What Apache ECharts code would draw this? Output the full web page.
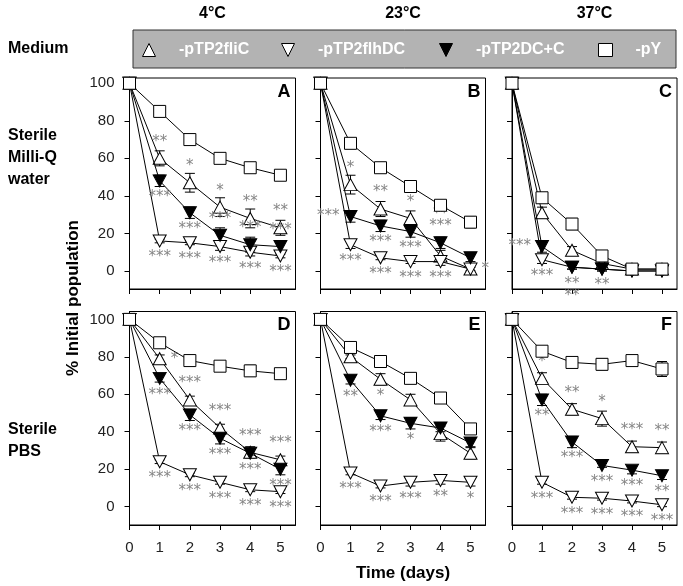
<!DOCTYPE html>
<html><head><meta charset="utf-8">
<script src="https://cdn.jsdelivr.net/npm/echarts@6/dist/echarts.min.js"></script>
<style>html,body{margin:0;padding:0;background:#fff}#c{width:683px;height:586px}</style>
</head><body><div id="c"></div>
<script>
// ---------- data ----------
const days = [0, 1, 2, 3, 4, 5];
const seriesNames = ['-pTP2fliC', '-pTP2flhDC', '-pTP2DC+C', '-pY'];
const panelLetters = ['A', 'B', 'C', 'D', 'E', 'F'];
const temperatures = ['4°C', '23°C', '37°C'];
const yTicks = [0, 20, 40, 60, 80, 100];

// Panel A (Milli-Q, 4°C)
const A_fliC = [100, 60, 47, 34, 28, 23];
const A_flhDC = [100, 16, 15, 13, 10, 8];
const A_DCC = [100, 48, 31, 19, 14, 13];
const A_pY = [100, 85, 70, 60, 55, 51];
const A_fliC_err = [0, 4, 5, 5, 5, 4];
const A_flhDC_err = [0, 1, 1, 2, 2, 1];
const A_DCC_err = [0, 3, 3, 4, 4, 3];
const A_pY_err = [0, 1, 1.5, 1, 2, 1.5];
const A_fliC_sig = ['', '^**', '^*', '^*', '^**', '^**'];
const A_flhDC_sig = ['', 'v***', 'v***', 'v***', 'v***', 'v***'];
const A_DCC_sig = ['', 'v***', 'v***', '^***', '^***', '^***'];
const A_pY_sig = ['', '', '', '', '', ''];

// Panel B (Milli-Q, 23°C)
const B_fliC = [100, 46, 33, 28, 8, 1];
const B_flhDC = [100, 14, 7, 5, 5, 1];
const B_DCC = [100, 29, 24, 21, 15, 7];
const B_pY = [100, 68, 55, 45, 35, 26];
const B_fliC_err = [0, 5, 4, 4, 3, 2];
const B_flhDC_err = [0, 2, 1, 1, 2, 1];
const B_DCC_err = [0, 3, 3, 3, 3, 2];
const B_pY_err = [0, 2, 1, 1, 2, 3];
const B_fliC_sig = ['', '^*', '^**', '^*', '', ''];
const B_flhDC_sig = ['', 'v***', 'v***', 'v***', 'v***', '>*'];
const B_DCC_sig = ['', '<***', 'v***', 'v***', '^**\n***', ''];
const B_pY_sig = ['', '', '', '', '', ''];

// Panel C (Milli-Q, 37°C)
const C_fliC = [100, 31, 11, 4, 1, 1];
const C_flhDC = [100, 6, 2, 1, 0, 0];
const C_DCC = [100, 13, 2, 1, 0, 0];
const C_pY = [100, 39, 25, 8, 1, 1];
const C_fliC_err = [0, 3, 2, 1, 1, 1];
const C_flhDC_err = [0, 2, 1, 1, 0, 0];
const C_DCC_err = [0, 3, 1, 1, 0, 0];
const C_pY_err = [0, 2, 3, 2, 2, 2];
const C_fliC_sig = ['', '', '', '', '', ''];
const C_flhDC_sig = ['', 'v***', '', '', '', ''];
const C_DCC_sig = ['', '<***', 'v**\n**', 'v**', '', ''];
const C_pY_sig = ['', '', '', '', '', ''];

// Panel D (PBS, 4°C)
const D_fliC = [100, 79, 57, 42, 29, 25];
const D_flhDC = [100, 24, 17, 13, 9, 8];
const D_DCC = [100, 68.5, 49, 36.5, 28.5, 20];
const D_pY = [100, 87.5, 78, 75, 72.5, 71];
const D_fliC_err = [0, 2, 2, 2, 3, 2];
const D_flhDC_err = [0, 1, 1, 1, 1, 1];
const D_DCC_err = [0, 2, 3, 3, 2, 3];
const D_pY_err = [0, 1, 1, 2, 3, 2];
const D_fliC_sig = ['', '>*', '^***', '^***', '^***', '^***'];
const D_flhDC_sig = ['', 'v***', 'v***', 'v***', 'v***', 'v***'];
const D_DCC_sig = ['', 'v***', 'v***', 'v***', 'v***', 'v***'];
const D_pY_sig = ['', '', '', '', '', ''];

// Panel E (PBS, 23°C)
const E_fliC = [100, 80, 68, 57, 39, 28.5];
const E_flhDC = [100, 18, 11, 13, 14, 13];
const E_DCC = [100, 67.5, 48.5, 44.5, 42, 34];
const E_pY = [100, 85, 77.5, 68.5, 58, 41.5];
const E_fliC_err = [0, 1, 3, 3, 4, 3];
const E_flhDC_err = [0, 1, 1, 2, 2, 2];
const E_DCC_err = [0, 2, 2, 3, 2, 2];
const E_pY_err = [0, 1, 1, 1, 2, 1];
const E_fliC_sig = ['', '', 'v*', '', '', ''];
const E_flhDC_sig = ['', 'v***', 'v***', 'v***', 'v**', 'v*'];
const E_DCC_sig = ['', 'v**', 'v***', 'v*', '', ''];
const E_pY_sig = ['', '', '', '', '', ''];

// Panel F (PBS, 37°C)
const F_fliC = [100, 68.5, 52, 47, 32, 31.5];
const F_flhDC = [100, 13, 5, 4.5, 3, 1];
const F_DCC = [100, 57, 34.5, 22, 19.5, 16.5];
const F_pY = [100, 83, 77, 76, 78, 73.5];
const F_fliC_err = [0, 3, 3, 4, 3, 3];
const F_flhDC_err = [0, 1, 1, 1, 1, 1];
const F_DCC_err = [0, 3, 3, 1, 2, 2];
const F_pY_err = [0, 1, 1, 3, 1, 4];
const F_fliC_sig = ['', '^*', '^**', '^*', '^***', '^**'];
const F_flhDC_sig = ['', 'v***', 'v***', 'v***', 'v***', 'v***'];
const F_DCC_sig = ['', 'v**', 'v***', 'v***', 'v***', 'v**'];
const F_pY_sig = ['', '', '', '', '', ''];

// ---------- assembly ----------
const panels = [
  {vals: [A_fliC, A_flhDC, A_DCC, A_pY], errs: [A_fliC_err, A_flhDC_err, A_DCC_err, A_pY_err], sigs: [A_fliC_sig, A_flhDC_sig, A_DCC_sig, A_pY_sig]},
  {vals: [B_fliC, B_flhDC, B_DCC, B_pY], errs: [B_fliC_err, B_flhDC_err, B_DCC_err, B_pY_err], sigs: [B_fliC_sig, B_flhDC_sig, B_DCC_sig, B_pY_sig]},
  {vals: [C_fliC, C_flhDC, C_DCC, C_pY], errs: [C_fliC_err, C_flhDC_err, C_DCC_err, C_pY_err], sigs: [C_fliC_sig, C_flhDC_sig, C_DCC_sig, C_pY_sig]},
  {vals: [D_fliC, D_flhDC, D_DCC, D_pY], errs: [D_fliC_err, D_flhDC_err, D_DCC_err, D_pY_err], sigs: [D_fliC_sig, D_flhDC_sig, D_DCC_sig, D_pY_sig]},
  {vals: [E_fliC, E_flhDC, E_DCC, E_pY], errs: [E_fliC_err, E_flhDC_err, E_DCC_err, E_pY_err], sigs: [E_fliC_sig, E_flhDC_sig, E_DCC_sig, E_pY_sig]},
  {vals: [F_fliC, F_flhDC, F_DCC, F_pY], errs: [F_fliC_err, F_flhDC_err, F_DCC_err, F_pY_err], sigs: [F_fliC_sig, F_flhDC_sig, F_DCC_sig, F_pY_sig]}
];

const FONT = '"Liberation Sans", Arial, sans-serif';
const colLeft = [129.5, 320.5, 512];
const colWidth = [166, 165, 165];
const rowTop = [78, 311.5];
const rowHeight = [211, 213.5];
const rowMin = [-9.6, -9.8];
const rowMax = [102.8, 104.2];

const styles = [
  {symbol: 'triangle', rotate: 0, fill: '#fff', size: [13, 12]},
  {symbol: 'triangle', rotate: 180, fill: '#fff', size: [13, 12]},
  {symbol: 'triangle', rotate: 180, fill: '#000', size: [13, 12]},
  {symbol: 'rect', rotate: 0, fill: '#fff', size: [12, 12]}
];

function sigLabel(s) {
  if (!s) return {show: false};
  const pos = {'^': 'top', 'v': 'bottom', '<': 'left', '>': 'right'}[s[0]];
  return {show: true, position: pos, formatter: s.slice(1), distance: 4,
    color: '#858585', fontSize: 15, fontFamily: 'DejaVu Sans', lineHeight: 12};
}

function renderErr(params, api) {
  const x = api.value(0), y = api.value(1), e = api.value(2);
  if (!e) return null;
  const hi = api.coord([x, y + e]), lo = api.coord([x, y - e]);
  const w = 5;
  const st = {stroke: '#000', lineWidth: 1};
  return {type: 'group', children: [
    {type: 'line', shape: {x1: hi[0], y1: hi[1], x2: lo[0], y2: lo[1]}, style: st},
    {type: 'line', shape: {x1: hi[0] - w, y1: hi[1], x2: hi[0] + w, y2: hi[1]}, style: st},
    {type: 'line', shape: {x1: lo[0] - w, y1: lo[1], x2: lo[0] + w, y2: lo[1]}, style: st}
  ]};
}

const grids = [], xAxes = [], yAxes = [], series = [], graphics = [];
panels.forEach((p, i) => {
  const r = Math.floor(i / 3), c = i % 3;
  grids.push({left: colLeft[c], top: rowTop[r], width: colWidth[c], height: rowHeight[r],
    show: true, borderColor: '#000', borderWidth: 1, backgroundColor: 'transparent'});
  xAxes.push({type: 'value', gridIndex: i, min: 0, max: 5.5,
    axisLine: {show: true, onZero: false, lineStyle: {color: '#000', width: 1}},
    axisTick: {show: true, customValues: days, length: 5, lineStyle: {color: '#000'}},
    axisLabel: {show: r === 1, customValues: days, fontSize: 15, color: '#222', margin: 15, fontFamily: FONT},
    splitLine: {show: false}});
  yAxes.push({type: 'value', gridIndex: i, min: rowMin[r], max: rowMax[r],
    axisLine: {show: true, onZero: false, lineStyle: {color: '#000', width: 1}},
    axisTick: {show: true, customValues: yTicks, length: 5, lineStyle: {color: '#000'}},
    axisLabel: {show: c === 0, customValues: yTicks, fontSize: 15, color: '#222', margin: 15, fontFamily: FONT},
    splitLine: {show: false}});
  p.vals.forEach((vals, k) => {
    series.push({type: 'custom', xAxisIndex: i, yAxisIndex: i, renderItem: renderErr,
      data: days.map((d, j) => [d, vals[j], p.errs[k][j]]), z: 2, silent: true});
  });
  p.vals.forEach((vals, k) => {
    const s = styles[k];
    series.push({type: 'line', name: seriesNames[k], xAxisIndex: i, yAxisIndex: i,
      symbol: s.symbol, symbolRotate: s.rotate, symbolSize: s.size, showSymbol: true, clip: false,
      lineStyle: {color: '#000', width: 1},
      itemStyle: {color: s.fill, borderColor: '#000', borderWidth: 1},
      data: days.map((d, j) => ({value: [d, vals[j]], label: sigLabel(p.sigs[k][j])})),
      z: 3 + k, silent: true});
  });
  graphics.push({type: 'text', x: colLeft[c] + colWidth[c] - 5, y: rowTop[r] + 5,
    style: {text: panelLetters[i], font: 'bold 18px ' + FONT, fill: '#000', textAlign: 'right', textVerticalAlign: 'top'}});
});

temperatures.forEach((t, c) => {
  graphics.push({type: 'text', x: colLeft[c] + colWidth[c] / 2, y: 14,
    style: {text: t, font: 'bold 16px ' + FONT, fill: '#000', textAlign: 'center', textVerticalAlign: 'middle'}});
});
graphics.push({type: 'rect', shape: {x: 133, y: 30, width: 543, height: 38}, z: 0,
  style: {fill: '#b3b3b3', stroke: '#333', lineWidth: 1}});
graphics.push({type: 'text', x: 8, y: 49,
  style: {text: 'Medium', font: 'bold 16px ' + FONT, fill: '#000', textVerticalAlign: 'middle'}});
graphics.push({type: 'text', x: 8, y: 158,
  style: {text: 'Sterile\nMilli-Q\nwater', font: 'bold 16px ' + FONT, fill: '#000', textVerticalAlign: 'middle', lineHeight: 22}});
graphics.push({type: 'text', x: 8, y: 441,
  style: {text: 'Sterile\nPBS', font: 'bold 16px ' + FONT, fill: '#000', textVerticalAlign: 'middle', lineHeight: 22}});
graphics.push({type: 'text', x: 73, y: 298, rotation: Math.PI / 2,
  style: {text: '% Initial population', font: 'bold 17px ' + FONT, fill: '#000', textAlign: 'center', textVerticalAlign: 'middle'}});
graphics.push({type: 'text', x: 403, y: 573,
  style: {text: 'Time (days)', font: 'bold 17px ' + FONT, fill: '#000', textAlign: 'center', textVerticalAlign: 'middle'}});

const legendLeft = [142, 281, 439, 598];
const legendIcons = ['path://M5,0L10,10L0,10Z', 'path://M0,0L10,0L5,10Z', 'path://M0,0L10,0L5,10Z', 'rect'];
const legends = seriesNames.map((n, k) => ({
  data: [n], left: legendLeft[k], top: 42, padding: 0, itemWidth: 14, itemHeight: 13,
  icon: legendIcons[k], selectedMode: false, z: 5,
  itemStyle: {color: styles[k].fill, borderColor: '#000', borderWidth: 1},
  textStyle: {color: '#fff', fontWeight: 'bold', fontSize: 16, fontFamily: FONT, padding: [0, 0, 0, 18]}
}));

const chart = echarts.init(document.getElementById('c'), null, {renderer: 'canvas'});
chart.setOption({
  animation: false,
  backgroundColor: '#fff',
  grid: grids, xAxis: xAxes, yAxis: yAxes, series: series,
  legend: legends,
  graphic: graphics
});
</script></body></html>
